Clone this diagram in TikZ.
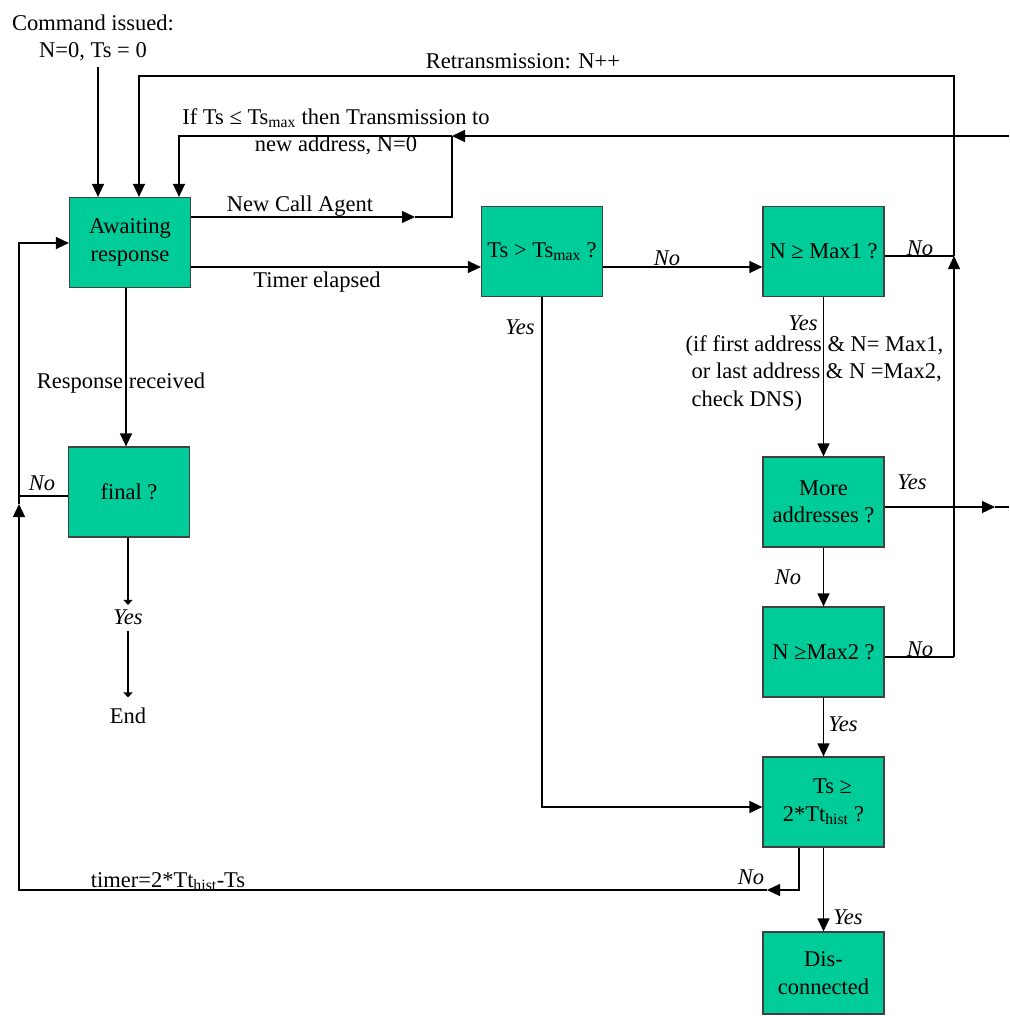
\documentclass[tikz,border=0pt]{standalone}
\usepackage{fontspec}
\setmainfont{Liberation Serif}
\usetikzlibrary{arrows.meta}
\definecolor{boxgreen}{RGB}{0,204,153}
\begin{document}
\begin{tikzpicture}[x = 1pt, y = -1pt, line width = 1.3pt,
        every node/.style = {font = \fontsize{22.5}{27.5}\selectfont, inner sep = 0pt},
        box/.style = {draw = black!75, fill = boxgreen, line width = 1.2pt, minimum width = 121pt, minimum height = 90pt, align = center},
        ans/.style = {font = \fontsize{22.5}{27.5}\selectfont\itshape},
        big/.style = {-{Triangle[length = 13pt, width = 12pt]}},
        small/.style = {-{Triangle[length = 5pt, width = 9pt]}}]
    \useasboundingbox (0,0) rectangle (1009,1016);
    \node[box] (await) at (130,242.5) {Awaiting\\response};
    \node[box] (tsmax) at (542,251.5) {Ts > Ts\textsubscript{max} ?};
    \node[box] (max1) at (823.5,251.5) {N ≥ Max1 ?};
    \node[box] (more) at (823.5,502) {More\\addresses ?};
    \node[box] (max2) at (823.5,652) {N ≥Max2 ?};
    \node[box] (hist) at (823.5,802) {\hspace{18pt}Ts ≥\\2*Tt\textsubscript{hist} ?};
    \node[box, minimum height = 82pt] (disc) at (823.5,973) {Dis-\\connected};
    \node[box] (final) at (129,492) {final ?};
    \node[align = center] (cmd) at (93,38) {Command issued:\\N=0, Ts = 0};
    \node (retx) at (523,61) {Retransmission: N++};
    \node[align = center] (newaddr) at (336,132) {If Ts ≤ Ts\textsubscript{max} then Transmission to\\new address, N=0};
    \node (nca) at (300,206) {New Call Agent};
    \node (elapsed) at (317,282) {Timer elapsed};
    \node (resp) at (121,383) {Response received};
    \node[ans] (no1) at (667,258) {No};
    \node[ans] (no2) at (920,248) {No};
    \node[ans] (yes1) at (520,327) {Yes};
    \node[ans] (yes2) at (803,323) {Yes};
    \node[align = left, anchor = west] (dns) at (685,373) {(if first address \& N= Max1,\\\hspace{6pt}or last address \& N =Max2,\\\hspace{6pt}check DNS)};
    \node[ans] (yes3) at (912,482) {Yes};
    \node[ans] (no3) at (788,577) {No};
    \node[ans] (no4) at (920,649) {No};
    \node[ans] (yes4) at (843,724) {Yes};
    \node[ans] (no5) at (751,877) {No};
    \node[ans] (yes5) at (848,917) {Yes};
    \node[anchor = base] (reset) at (168,887) {timer=2*Tt\textsubscript{hist}-Ts};
    \node[ans] (no6) at (42,483) {No};
    \node[ans] (yes6) at (128,617) {Yes};
    \node (stop) at (128,716) {End};
    \coordinate (cmdfoot) at (98,67);
    \coordinate (rtop) at (139,76);
    \coordinate (rjoin) at (954,256);
    \coordinate (rfoot) at (954,657);
    \coordinate (aright) at (1009,136);
    \coordinate (ajoin) at (452,136);
    \coordinate (atop) at (179,136);
    \coordinate (ncend) at (452,217);
    \coordinate (ncmid) at (415,217);
    \coordinate (tline) at (300,267);
    \coordinate (yright) at (1009,507);
    \coordinate (ymid) at (995,507);
    \coordinate (hline) at (700,807);
    \coordinate (hno) at (799,890);
    \coordinate (hmid) at (767,890);
    \coordinate (lcorner) at (19,890);
    \coordinate (lmid) at (19,504);
    \coordinate (ljoin) at (19,496);
    \coordinate (ltop) at (19,243);
    \coordinate (rdown) at (126,300);
    \draw[big] (cmdfoot) -- (cmdfoot |- await.north);
    \draw (max1.east |- rjoin) -- (rjoin);
    \draw (max2.east |- rfoot) -- (rfoot);
    \draw[big] (rfoot) -- (rjoin);
    \draw[big] (rjoin) |- (rtop) -- (rtop |- await.north);
    \draw[big] (aright) -- (ajoin);
    \draw[big] (ajoin) -- (atop) -- (atop |- await.north);
    \draw[big] (await.east |- ncend) -- (ncmid);
    \draw (ncmid) -- (ncend) -- (ajoin);
    \draw[big] (await.east |- tline) -- (tsmax.west |- tline);
    \draw[big] (tsmax.east |- tline) -- (max1.west |- tline);
    \draw[big] (max1.south) -- (more.north);
    \draw[big] (more.south) -- (max2.north);
    \draw[big] (max2.south) -- (hist.north);
    \draw[big] (hist.south) -- (disc.north);
    \draw[big] (more.east |- ymid) -- (ymid);
    \draw (ymid) -- (yright);
    \draw[big] (tsmax.south) |- (hist.west |- hline);
    \draw[big] (hno |- hist.south) -- (hno) -- (hmid);
    \draw[big] (hmid) -- (lcorner) -- (lmid);
    \draw[big] (lmid) -- (ltop) -- (await.west |- ltop);
    \draw (final.west |- ljoin) -- (ljoin);
    \draw[big] (rdown |- await.south) -- (rdown |- final.north);
    \draw[small, shorten >= 4pt] (yes6 |- final.south) -- (yes6.north);
    \draw[small, shorten <= 6pt, shorten >= 10pt] (yes6.south) -- (yes6.south |- stop.north);
\end{tikzpicture}
\end{document}
